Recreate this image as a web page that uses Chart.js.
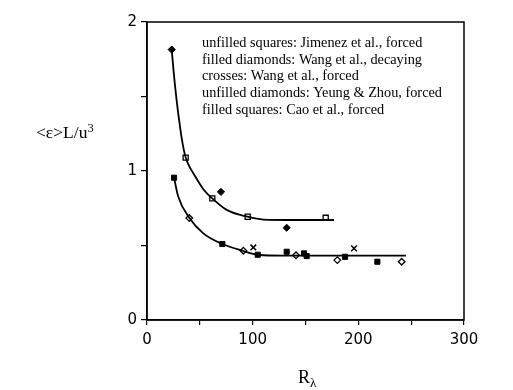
<!DOCTYPE html>
<html>
<head>
<meta charset="utf-8">
<script src="https://cdn.jsdelivr.net/npm/chart.js@4.4.0/dist/chart.umd.min.js"></script>
<style>
  html, body { margin: 0; padding: 0; background: #fff; }
  #wrap { width: 513px; height: 390px; }
</style>
</head>
<body>
<div id="wrap"><canvas id="epsChart"></canvas></div>
<script>
// ---- data ----
var wangDecayX = [23.4, 70, 132.2];
var wangDecayY = [1.815, 0.86, 0.619];

var jimenezX = [36.6, 61.8, 95.3, 169.1];
var jimenezY = [1.09, 0.816, 0.693, 0.686];

var wangForcedX = [100.6, 195.9];
var wangForcedY = [0.487, 0.481];

var yeungX = [40, 91.2, 141, 180.1, 241];
var yeungY = [0.684, 0.465, 0.434, 0.402, 0.391];

var caoX = [25.6, 71.3, 104.8, 132.2, 148.6, 151.1, 187.4, 218];
var caoY = [0.955, 0.51, 0.438, 0.458, 0.447, 0.429, 0.424, 0.391];

// hand drawn fit curves (traced)
var upperFitX = [23.4, 25.2, 28.1, 31.5, 33.8, 36.4, 39.8, 43.8, 53.3, 61.8, 75.4, 95.3, 110, 140, 177];
var upperFitY = [1.815, 1.667, 1.47, 1.284, 1.18, 1.095, 1.035, 0.985, 0.878, 0.816, 0.739, 0.693, 0.674, 0.671, 0.671];

var lowerFitX = [25.6, 29.6, 40, 53.3, 71.3, 91.2, 104.8, 130, 245];
var lowerFitY = [0.955, 0.827, 0.686, 0.581, 0.51, 0.463, 0.438, 0.432, 0.432];

var xTicks = [0, 100, 200, 300];
var yTicks = [0, 1, 2];

var noteLines = [
    'unfilled squares: Jimenez et al., forced',
    'filled diamonds: Wang et al., decaying',
    'crosses: Wang et al., forced',
    'unfilled diamonds: Yeung & Zhou, forced',
    'filled squares: Cao et al., forced'
];

function toPoints(xs, ys) {
    var pts = [];
    for (var i = 0; i < xs.length; i++) {
        pts.push({ x: xs[i], y: ys[i] });
    }
    return pts;
}

// box, axis titles and the note text
var extrasPlugin = {
    id: 'extras',
    afterDraw: function (chart) {
        var ctx = chart.ctx,
            area = chart.chartArea;
        ctx.save();
        ctx.strokeStyle = '#000';
        ctx.lineWidth = 1.5;
        ctx.strokeRect(area.left, area.top, area.right - area.left, area.bottom - area.top);

        ctx.fillStyle = '#000';
        ctx.textBaseline = 'alphabetic';

        // y title  <ε>L/u³
        ctx.font = '17.5px "Liberation Serif"';
        var t = '<\u03b5>L/u';
        ctx.fillText(t, 36, 138);
        var w = ctx.measureText(t).width;
        ctx.font = '12.5px "Liberation Serif"';
        ctx.fillText('3', 36 + w, 132);

        // x title  Rλ
        ctx.font = '18px "Liberation Serif"';
        ctx.fillText('R', 298, 383);
        var wr = ctx.measureText('R').width;
        ctx.font = '13px "Liberation Serif"';
        ctx.fillText('\u03bb', 298 + wr, 387);

        // notes
        ctx.font = '14.3px "Liberation Serif"';
        ctx.textBaseline = 'middle';
        for (var i = 0; i < noteLines.length; i++) {
            ctx.fillText(noteLines[i], 202, 43.5 + i * 16.6);
        }
        ctx.restore();
    }
};

var lineStyle = {
    showLine: true,
    pointRadius: 0,
    borderColor: '#000',
    borderWidth: 1.8,
    cubicInterpolationMode: 'monotone',
    fill: false
};

var epsChart = new Chart(document.getElementById('epsChart').getContext('2d'), {
    type: 'scatter',
    data: {
        datasets: [
            Object.assign({ label: 'upper fit', data: toPoints(upperFitX, upperFitY) }, lineStyle),
            Object.assign({ label: 'lower fit', data: toPoints(lowerFitX, lowerFitY) }, lineStyle),
            {
                label: 'Jimenez et al., forced',
                data: toPoints(jimenezX, jimenezY),
                pointStyle: 'rect',
                pointRadius: 3.6,
                backgroundColor: '#fff',
                borderColor: '#000',
                borderWidth: 1.3
            },
            {
                label: 'Wang et al., decaying',
                data: toPoints(wangDecayX, wangDecayY),
                pointStyle: 'rectRot',
                pointRadius: 3.6,
                backgroundColor: '#000',
                borderColor: '#000',
                borderWidth: 1
            },
            {
                label: 'Wang et al., forced',
                data: toPoints(wangForcedX, wangForcedY),
                pointStyle: 'crossRot',
                pointRadius: 4,
                borderColor: '#000',
                borderWidth: 1.5
            },
            {
                label: 'Yeung & Zhou, forced',
                data: toPoints(yeungX, yeungY),
                pointStyle: 'rectRot',
                pointRadius: 3.3,
                backgroundColor: '#fff',
                borderColor: '#000',
                borderWidth: 1.3
            },
            {
                label: 'Cao et al., forced',
                data: toPoints(caoX, caoY),
                pointStyle: 'rect',
                pointRadius: 3.6,
                backgroundColor: '#000',
                borderColor: '#000',
                borderWidth: 1
            }
        ]
    },
    options: {
        responsive: true,
        maintainAspectRatio: false,
        animation: false,
        layout: { padding: { left: 0, right: 49, top: 22, bottom: 0 } },
        plugins: {
            legend: { display: false },
            tooltip: { enabled: false }
        },
        scales: {
            x: {
                type: 'linear',
                min: 0,
                max: 300,
                afterFit: function (scale) { scale.height = 70; },
                border: { display: true, color: '#000', width: 1.5 },
                grid: { drawOnChartArea: false, drawTicks: true, tickLength: 5, color: '#000', lineWidth: 1.2 },
                ticks: {
                    stepSize: 50,
                    color: '#000',
                    padding: 6,
                    maxRotation: 0,
                    font: { family: 'DejaVu Sans', size: 15 },
                    callback: function (v) { return xTicks.indexOf(v) >= 0 ? String(v) : ''; }
                }
            },
            y: {
                type: 'linear',
                min: 0,
                max: 2,
                afterFit: function (scale) { scale.width = 147; },
                border: { display: true, color: '#000', width: 1.5 },
                grid: { drawOnChartArea: false, drawTicks: true, tickLength: 6, color: '#000', lineWidth: 1.2 },
                ticks: {
                    stepSize: 0.5,
                    color: '#000',
                    padding: 4,
                    font: { family: 'DejaVu Sans', size: 15 },
                    callback: function (v) { return yTicks.indexOf(v) >= 0 ? String(v) : ''; }
                }
            }
        }
    },
    plugins: [extrasPlugin]
});
</script>
</body>
</html>
